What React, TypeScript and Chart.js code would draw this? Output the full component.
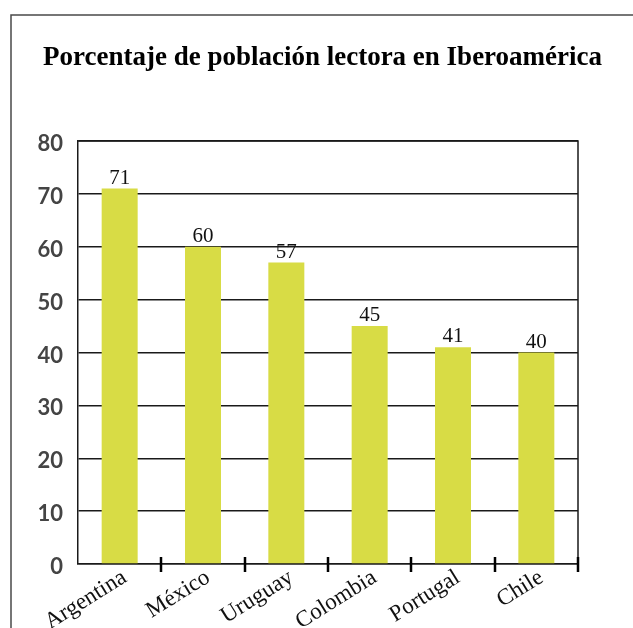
import React, { useEffect, useRef } from "react";
import { Chart, registerables } from "chart.js";

Chart.register(...registerables);

const TITLE = "Porcentaje de población lectora en Iberoamérica";
const countries = ["Argentina", "México", "Uruguay", "Colombia", "Portugal", "Chile"];
const readers = [71, 60, 57, 45, 41, 40];
const yTicks = [0, 10, 20, 30, 40, 50, 60, 70, 80];

const BAR_COLOR = "#d8dc45";
const LINE_COLOR = "#1a1a1a";

const framePlugin = {
  id: "frame",
  beforeDraw(chart: any) {
    const ctx = chart.ctx;
    ctx.save();
    ctx.fillStyle = "#ffffff";
    ctx.fillRect(0, 0, chart.width, chart.height);
    ctx.strokeStyle = "#4a4a4a";
    ctx.lineWidth = 1.5;
    ctx.beginPath();
    ctx.moveTo(11, chart.height);
    ctx.lineTo(11, 15);
    ctx.lineTo(chart.width, 15);
    ctx.stroke();
    // title, centred on the framed panel
    ctx.font = "bold 27px 'Liberation Serif'";
    ctx.fillStyle = "#000";
    ctx.textAlign = "center";
    ctx.textBaseline = "alphabetic";
    ctx.fillText(TITLE, (11 + chart.width) / 2 + 0.5, 65);
    ctx.restore();
  },
  beforeDatasetsDraw(chart: any) {
    const ctx = chart.ctx;
    const a = chart.chartArea;
    const xs = chart.scales.x;
    ctx.save();
    ctx.strokeStyle = LINE_COLOR;
    ctx.lineWidth = 1.5;
    ctx.beginPath();
    ctx.moveTo(a.left, a.top);
    ctx.lineTo(a.right, a.top);
    ctx.lineTo(a.right, a.bottom);
    ctx.stroke();
    // category boundary ticks crossing the axis
    ctx.lineWidth = 2.5;
    ctx.strokeStyle = "#000";
    ctx.beginPath();
    for (let i = 1; i <= countries.length; i++) {
      const px = Math.round(xs.getPixelForValue(i - 0.5));
      ctx.moveTo(px, a.bottom - 7);
      ctx.lineTo(px, a.bottom + 8);
    }
    ctx.stroke();
    ctx.restore();
  },
  afterDatasetsDraw(chart: any) {
    const ctx = chart.ctx;
    const meta = chart.getDatasetMeta(0);
    const data = chart.data.datasets[0].data;
    ctx.save();
    ctx.font = "21px 'Liberation Serif'";
    ctx.fillStyle = "#111";
    ctx.textAlign = "center";
    ctx.textBaseline = "alphabetic";
    meta.data.forEach((bar: any, i: number) => {
      ctx.fillText(String(data[i]), bar.x, bar.y - 5);
    });
    ctx.restore();
  },
};

export default function App() {
  const ref = useRef<HTMLCanvasElement>(null);
  useEffect(() => {
    const chart = new Chart(ref.current!, {
      type: "bar",
      data: {
        labels: countries,
        datasets: [
          {
            data: readers,
            backgroundColor: BAR_COLOR,
            borderWidth: 0,
            barPercentage: 0.432,
            categoryPercentage: 1,
          },
        ],
      },
      options: {
        animation: false,
        responsive: false,
        layout: { padding: { left: 0, right: 55, top: 141, bottom: 0 } },
        plugins: {
          legend: { display: false },
          tooltip: { enabled: false },
          title: { display: false },
        },
        scales: {
          x: {
            grid: { display: false, drawTicks: false },
            border: { display: true, color: LINE_COLOR, width: 1.5 },
            ticks: {
              color: "#111",
              font: { family: "'Liberation Serif'", size: 23 },
              minRotation: 32,
              maxRotation: 32,
              padding: 0,
              labelOffset: 5,
            },
            afterFit(scale: any) {
              scale.height = 64;
            },
          },
          y: {
            min: 0,
            max: 80,
            afterBuildTicks(scale: any) {
              scale.ticks = yTicks.map((v) => ({ value: v }));
            },
            grid: { color: LINE_COLOR, lineWidth: 1.5, drawTicks: false },
            border: { display: true, color: LINE_COLOR, width: 1.5 },
            ticks: {
              color: "#444",
              font: { family: "Lato", size: 22, weight: "bold" },
              padding: 15,
              labelOffset: 3,
            },
            afterFit(scale: any) {
              scale.width = 78;
            },
          },
        },
      },
      plugins: [framePlugin],
    });
    return () => chart.destroy();
  }, []);
  return (
    <canvas
      ref={ref}
      width={633}
      height={628}
      style={{ position: "fixed", left: 0, top: 0, width: 633, height: 628 }}
    />
  );
}
